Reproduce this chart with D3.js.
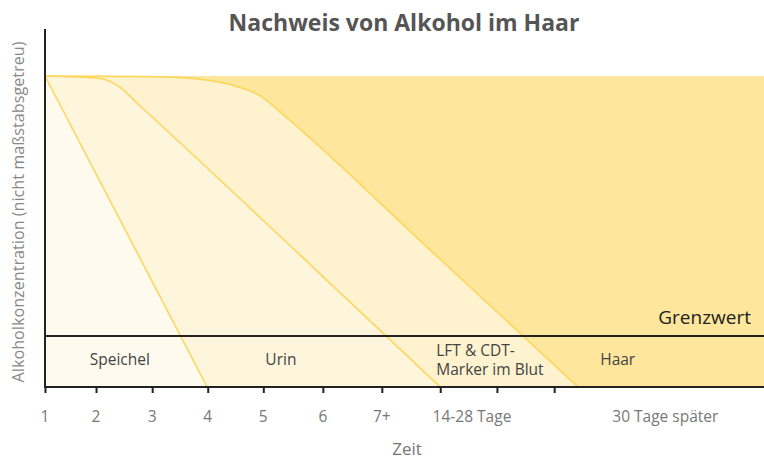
<!DOCTYPE html>
<html>
<head>
<meta charset="utf-8">
<script src="https://cdn.jsdelivr.net/npm/d3@7"></script>
<style>
  html, body { margin: 0; padding: 0; background: #fff; }
  svg { display: block; font-family: "Open Sans", "Noto Sans", sans-serif; }
</style>
</head>
<body>
<svg id="chart" width="764" height="460"></svg>
<script>
// ---- data ----
const title = "Nachweis von Alkohol im Haar";
const yLabel = "Alkoholkonzentration (nicht maßstabsgetreu)";
const xLabel = "Zeit";

// Zeitachse (Index) & Konzentration (%, nicht maßstabsgetreu)
const lftX  = [1.00, 2.85, 3.73, 4.35, 4.79, 5.23, 7.79, 10.40];
const lftY  = [100, 99.8, 99.0, 96.8, 93.7, 87.1, 44.1, 0];
const urinX = [1.00, 1.97, 2.29, 2.64, 5.50, 7.97];
const urinY = [100, 99.2, 96.8, 91.0, 42.4, 0];
const speichelX = [1.00, 3.86];
const speichelY = [100, 0];
const haarX = [1.00, 13.70];
const haarY = [100, 100];
const grenzwert = 16.4;

const tickValues = [1, 1.90, 2.89, 3.87, 4.85, 5.90, 6.94, 7.97, 8.97, 9.98];
const tickLabels = ["1", "2", "3", "4", "5", "6", "7+", "14-28 Tage", "30 Tage später"];
const tickLabelPos = [1, 1.90, 2.89, 3.87, 4.85, 5.90, 6.94, 8.53, 11.94];

const regionNames = ["Speichel", "Urin", "LFT & CDT-|Marker im Blut", "Haar"];
const regionX = [2.32, 5.16, 7.90, 11.10];

// ---- layout ----
const svg = d3.select("#chart");
const x = d3.scaleLinear().domain([1, 13.68]).range([45, 764]);
const y = d3.scaleLinear().domain([0, 100]).range([387, 76]);

const cHaar = "#fee69d", cLft = "#fef2cf", cUrin = "#fef5dd", cSp = "#fffaee";
const cEdge = "#fdd75c";

const toPts = (xs, ys) => xs.map((v, i) => [v, ys[i]]);
const area = d3.area().x(d => x(d[0])).y0(y(0)).y1(d => y(d[1])).curve(d3.curveMonotoneX);
const line = d3.line().x(d => x(d[0])).y(d => y(d[1])).curve(d3.curveMonotoneX);

// Haar background
svg.append("path").datum(toPts(haarX, haarY))
  .attr("d", d3.area().x(d => x(d[0])).y0(y(0)).y1(d => y(d[1])))
  .attr("fill", cHaar);

[[lftX, lftY, cLft], [urinX, urinY, cUrin], [speichelX, speichelY, cSp]].forEach(([xs, ys, c]) => {
  const pts = toPts(xs, ys);
  svg.append("path").datum(pts).attr("d", area).attr("fill", c);
  svg.append("path").datum(pts).attr("d", line)
    .attr("fill", "none").attr("stroke", cEdge).attr("stroke-width", 1.6);
});

// Grenzwert
svg.append("line")
  .attr("x1", x(1)).attr("x2", 764)
  .attr("y1", y(grenzwert)).attr("y2", y(grenzwert))
  .attr("stroke", "#222").attr("stroke-width", 2);
svg.append("text").text("Grenzwert")
  .attr("x", 751).attr("y", y(grenzwert) - 12)
  .attr("text-anchor", "end").attr("font-size", 19).attr("fill", "#222");

// Region labels
regionNames.forEach((n, i) => {
  const parts = n.split("|");
  const t = svg.append("text")
    .attr("font-size", 15.5).attr("fill", "#444")
    .attr("text-anchor", parts.length > 1 ? "start" : "middle");
  if (parts.length > 1) {
    parts.forEach((p, j) => t.append("tspan").attr("x", x(regionX[i])).attr("y", 356 + j * 18.5).text(p));
  } else {
    t.attr("x", x(regionX[i])).attr("y", 365).text(n);
  }
});

// X axis
const xAxis = d3.axisBottom(x).tickValues(tickValues).tickSize(6).tickFormat("");
const gx = svg.append("g").attr("transform", `translate(0,${y(0)})`).call(xAxis);
gx.select(".domain").attr("d", `M${x(1)},0H764`).attr("stroke", "#222").attr("stroke-width", 2);
gx.selectAll(".tick line").attr("stroke", "#222").attr("stroke-width", 2);

svg.append("g").selectAll("text").data(tickLabels).join("text")
  .attr("x", (d, i) => x(tickLabelPos[i])).attr("y", 422)
  .attr("text-anchor", "middle").attr("font-size", 15.5).attr("fill", "#777")
  .text(d => d);

// Y axis
svg.append("line").attr("x1", x(1)).attr("x2", x(1)).attr("y1", 29).attr("y2", y(0) + 1)
  .attr("stroke", "#222").attr("stroke-width", 2);

// Titles
svg.append("text").text(title)
  .attr("x", 404).attr("y", 31).attr("text-anchor", "middle")
  .attr("font-size", 23).attr("font-weight", "bold").attr("fill", "#555");
svg.append("text").text(xLabel)
  .attr("x", 407).attr("y", 455).attr("text-anchor", "middle")
  .attr("font-size", 17).attr("fill", "#777");
svg.append("text").text(yLabel)
  .attr("transform", "translate(24,212) rotate(-90)").attr("text-anchor", "middle")
  .attr("font-size", 16.2).attr("fill", "#888");
</script>
</body>
</html>
